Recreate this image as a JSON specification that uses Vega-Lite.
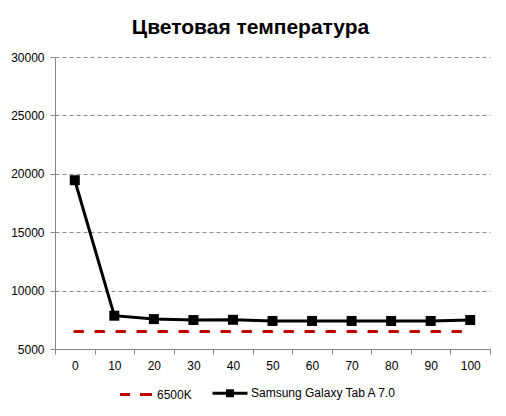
{
  "$schema": "https://vega.github.io/schema/vega-lite/v6.json",
  "width": 435,
  "height": 292,
  "autosize": "none",
  "padding": {"left": 55, "top": 57, "right": 16, "bottom": 67},
  "background": "white",
  "title": {
    "text": "Цветовая температура",
    "font": "Liberation Sans",
    "fontSize": 21,
    "fontWeight": "bold",
    "color": "black",
    "anchor": "middle",
    "frame": "bounds",
    "offset": 13
  },
  "data": {
    "values": [
      {"level": 0, "series": "6500K", "temp": 6500},
      {"level": 10, "series": "6500K", "temp": 6500},
      {"level": 20, "series": "6500K", "temp": 6500},
      {"level": 30, "series": "6500K", "temp": 6500},
      {"level": 40, "series": "6500K", "temp": 6500},
      {"level": 50, "series": "6500K", "temp": 6500},
      {"level": 60, "series": "6500K", "temp": 6500},
      {"level": 70, "series": "6500K", "temp": 6500},
      {"level": 80, "series": "6500K", "temp": 6500},
      {"level": 90, "series": "6500K", "temp": 6500},
      {"level": 100, "series": "6500K", "temp": 6500},
      {"level": 0, "series": "Samsung Galaxy Tab A 7.0", "temp": 19450},
      {"level": 10, "series": "Samsung Galaxy Tab A 7.0", "temp": 7850},
      {"level": 20, "series": "Samsung Galaxy Tab A 7.0", "temp": 7560},
      {"level": 30, "series": "Samsung Galaxy Tab A 7.0", "temp": 7480},
      {"level": 40, "series": "Samsung Galaxy Tab A 7.0", "temp": 7500},
      {"level": 50, "series": "Samsung Galaxy Tab A 7.0", "temp": 7400},
      {"level": 60, "series": "Samsung Galaxy Tab A 7.0", "temp": 7400},
      {"level": 70, "series": "Samsung Galaxy Tab A 7.0", "temp": 7400},
      {"level": 80, "series": "Samsung Galaxy Tab A 7.0", "temp": 7400},
      {"level": 90, "series": "Samsung Galaxy Tab A 7.0", "temp": 7400},
      {"level": 100, "series": "Samsung Galaxy Tab A 7.0", "temp": 7480}
    ]
  },
  "encoding": {
    "x": {
      "field": "level",
      "type": "ordinal",
      "scale": {"type": "band", "paddingInner": 0, "paddingOuter": 0},
      "axis": {
        "title": null,
        "labelAngle": 0,
        "tickBand": "extent",
        "tickSize": 5,
        "labelPadding": 6,
        "grid": false
      }
    },
    "y": {
      "field": "temp",
      "type": "quantitative",
      "scale": {"domain": [5000, 30000], "nice": false, "zero": false},
      "axis": {
        "title": null,
        "values": [5000, 10000, 15000, 20000, 25000, 30000],
        "format": "d",
        "grid": true,
        "gridDash": [4, 3],
        "gridColor": "#8c8c8c",
        "tickSize": 5,
        "labelPadding": 6
      }
    },
    "color": {
      "field": "series",
      "type": "nominal",
      "scale": {
        "domain": ["6500K", "Samsung Galaxy Tab A 7.0"],
        "range": ["#c00000", "#000000"]
      },
      "legend": {
        "title": null,
        "orient": "none",
        "direction": "horizontal",
        "legendX": 62,
        "legendY": 317,
        "symbolSize": 1225,
        "symbolStrokeWidth": 3,
        "labelOffset": 2,
        "columnPadding": 14,
        "encoding": {
          "symbols": {
            "shape": {"value": {"expr": "datum.value === '6500K' ? 'M-0.91,0L-0.34,0M0.23,0L0.91,0' : 'M-1,0L1,0M-0.14,-0.14L0.14,-0.14L0.14,0.14L-0.14,0.14Z'"}},
            "fill": {"value": {"expr": "datum.value === '6500K' ? '#c00000' : '#000000'"}},
            "stroke": {"value": {"expr": "datum.value === '6500K' ? '#c00000' : '#000000'"}},
            "strokeWidth": {"value": 3},
            "strokeDash": {"value": [1, 0]},
            "size": {"value": 1225},
            "opacity": {"value": 1}
          }
        }
      }
    }
  },
  "layer": [
    {
      "transform": [{"filter": "datum.series === '6500K'"}],
      "mark": {"type": "line", "strokeWidth": 3, "strokeDash": [8, 13], "strokeCap": "round"}
    },
    {
      "transform": [{"filter": "datum.series !== '6500K'"}],
      "mark": {"type": "line", "strokeWidth": 3}
    },
    {
      "transform": [{"filter": "datum.series !== '6500K'"}],
      "mark": {"type": "point", "shape": "square", "filled": true, "opacity": 1, "size": 100}
    }
  ],
  "config": {
    "font": "Liberation Sans",
    "view": {"stroke": null},
    "axis": {
      "labelFont": "Liberation Sans",
      "labelFontSize": 12,
      "labelColor": "#000000",
      "domainColor": "#868686",
      "tickColor": "#868686"
    },
    "legend": {
      "labelFont": "Liberation Sans",
      "labelFontSize": 12,
      "labelColor": "#000000"
    }
  }
}
